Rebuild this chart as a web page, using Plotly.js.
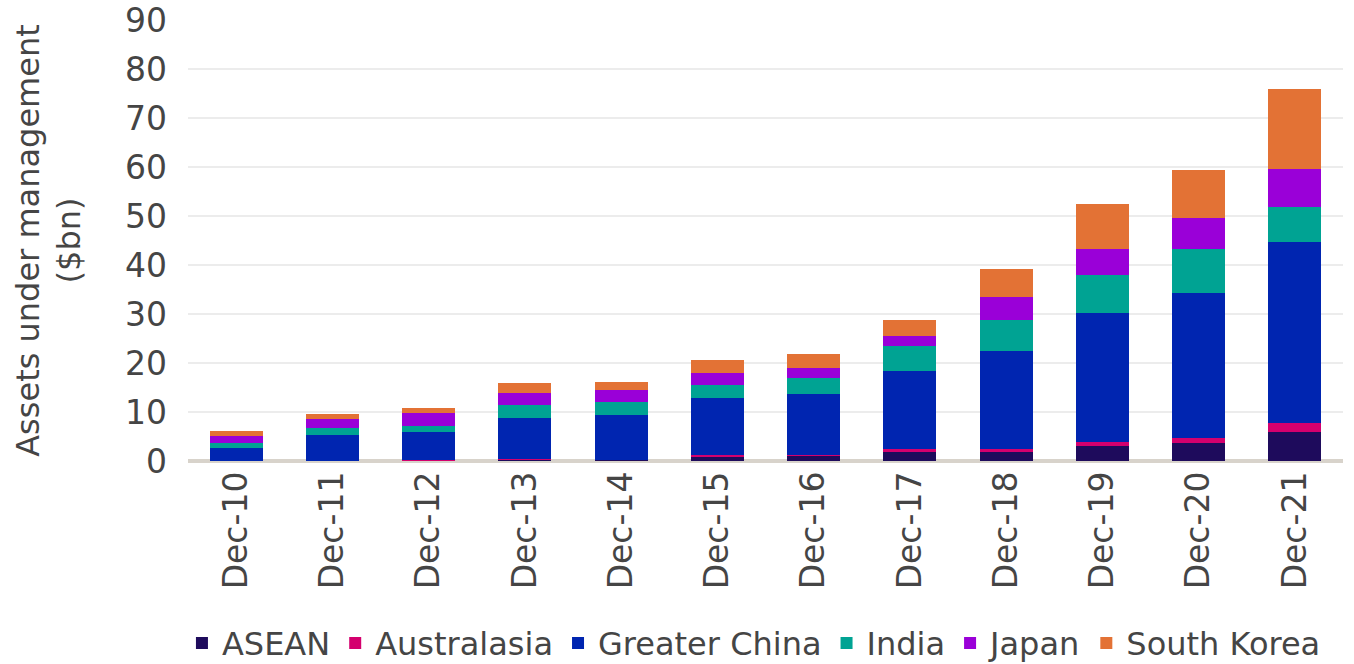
<!DOCTYPE html>
<html>
<head>
<meta charset="utf-8">
<script src="https://cdn.plot.ly/plotly-3.0.1.min.js"></script>
<style>
  html, body { margin: 0; padding: 0; background: #ffffff; }
  #chart { width: 1354px; height: 664px; }
</style>
</head>
<body>
<div id="chart"></div>
<script>
const categories = ["Dec-10","Dec-11","Dec-12","Dec-13","Dec-14","Dec-15","Dec-16","Dec-17","Dec-18","Dec-19","Dec-20","Dec-21"];
const asean        = [0.05, 0.05, 0.1, 0.3, 0.15, 0.9, 1.0, 1.9, 1.9, 3.0, 3.6, 5.9];
const australasia  = [0.05, 0.05, 0.05, 0.1, 0.1, 0.3, 0.3, 0.5, 0.55, 0.9, 1.0, 1.95];
const greaterChina = [2.5, 5.2, 5.7, 8.4, 9.15, 11.75, 12.45, 16.0, 19.9, 26.3, 29.7, 36.8];
const india        = [1.1, 1.5, 1.35, 2.7, 2.6, 2.5, 3.2, 5.1, 6.5, 7.85, 9.05, 7.15];
const japan        = [1.4, 1.7, 2.5, 2.4, 2.5, 2.6, 2.1, 2.1, 4.55, 5.3, 6.25, 7.8];
const southKorea   = [1.0, 1.15, 1.15, 2.1, 1.6, 2.5, 2.7, 3.2, 5.8, 9.05, 9.7, 16.4];
const yTickVals = [0, 10, 20, 30, 40, 50, 60, 70, 80, 90];

const seriesNames = ["ASEAN", "Australasia", "Greater China", "India", "Japan", "South Korea"];
const seriesData = [asean, australasia, greaterChina, india, japan, southKorea];
const seriesColors = ["#1e0b5c", "#d4006e", "#0025b0", "#00a393", "#9a00d8", "#e37235"];

const traces = seriesNames.map((name, i) => ({
  type: "bar",
  name: name,
  x: categories,
  y: seriesData[i],
  marker: { color: seriesColors[i], line: { width: 0 } },
  hoverinfo: "x+y+name"
}));

const fontFamily = "DejaVu Sans, Verdana, sans-serif";
const textColor = "#454545";

const layout = {
  width: 1354,
  height: 664,
  barmode: "stack",
  bargap: 0.45,
  paper_bgcolor: "#ffffff",
  plot_bgcolor: "#ffffff",
  margin: { l: 188, r: 11, t: 20, b: 203, pad: 0, autoexpand: false },
  font: { family: fontFamily, color: textColor, size: 32 },
  showlegend: true,
  legend: {
    orientation: "h",
    x: 0.49,
    xanchor: "center",
    y: -0.413,
    yanchor: "middle",
    font: { family: fontFamily, size: 32, color: textColor },
    itemwidth: 30,
    traceorder: "normal",
    bgcolor: "rgba(0,0,0,0)"
  },
  xaxis: {
    type: "category",
    tickangle: -90,
    tickfont: { family: fontFamily, size: 33, color: textColor },
    showgrid: false,
    showline: false,
    zeroline: false,
    ticks: "",
    ticklabelstandoff: 3,
    automargin: false
  },
  yaxis: {
    range: [0, 90],
    tickvals: yTickVals,
    ticktext: yTickVals.map(String),
    tickfont: { family: fontFamily, size: 33, color: textColor },
    showgrid: true,
    gridcolor: "#ececec",
    gridwidth: 2,
    zeroline: true,
    zerolinecolor: "#d8d3cb",
    zerolinewidth: 4,
    showline: false,
    ticks: "",
    ticklabelstandoff: 20,
    automargin: false,
    title: {
      text: "Assets under management<br>($bn)",
      font: { family: fontFamily, size: 32, color: textColor },
      standoff: 34
    }
  }
};

Plotly.newPlot("chart", traces, layout, { displayModeBar: false, staticPlot: true });
</script>
</body>
</html>
